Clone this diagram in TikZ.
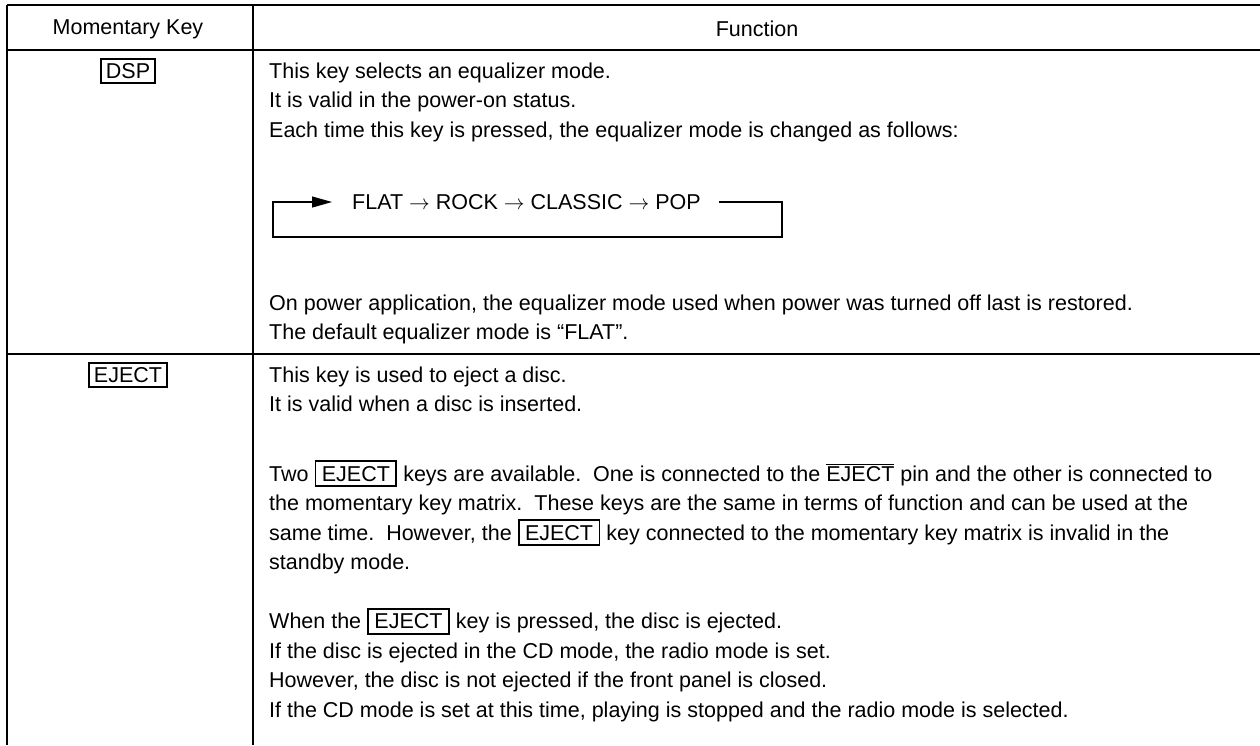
\documentclass[tikz,border=0pt]{standalone}
\usepackage{fontspec}
\setmainfont{Liberation Sans}
\usetikzlibrary{arrows.meta}

\newcommand{\keybox}[1]{{\setlength{\fboxrule}{1.8pt}\setlength{\fboxsep}{4pt}\fbox{\hspace{1.5pt}#1\hspace{1.5pt}}}}
\newcommand{\pinbar}[1]{$\overline{\mbox{#1}}$}

\begin{document}
\begin{tikzpicture}[x=1pt,y=-1pt,
    every node/.style={font=\fontsize{21.5}{28}\selectfont},
    grid/.style={line width=2.6pt},
    keyname/.style={draw,line width=1.8pt,inner xsep=5pt,inner ysep=4pt},
    line/.style={anchor=base west,inner sep=0pt},
    flow/.style={line width=1.2pt}]
\useasboundingbox (0,0) rectangle (1260,745);

    % table rules
    \draw[grid] (7,5) -- (1260,5);
    \draw[grid] (7,50) -- (1260,50);
    \draw[grid] (7,354) -- (1260,354);
    \draw[grid] (7,5) -- (7,745);
    \draw[grid] (253,5) -- (253,745);

    % header
    \node (hkey) at (128,29) {Momentary Key};
    \node (hfun) at (757,29) {Function};

    % DSP row
    \node[keyname] (dsp) at (128,71) {DSP};
    \node[line] (d1) at (269,78) {This key selects an equalizer mode.};
    \node[line] (d2) at (269,107.5) {It is valid in the power-on status.};
    \node[line] (d3) at (269,137) {Each time this key is pressed, the equalizer mode is changed as follows:};
    \node[anchor=west,inner sep=0pt] (seq) at (352,202)
        {FLAT $\rightarrow$ ROCK $\rightarrow$ CLASSIC $\rightarrow$ POP};
    \coordinate (lpa) at (273,202);
    \coordinate (lpb) at (273,237);
    \coordinate (rpa) at (782,202);
    \coordinate (rpb) at (782,237);
    \draw[flow,-{Triangle[length=20pt,width=11pt]}]
        ([xshift=18pt]seq.east) -- (rpa) -- (rpb) -- (lpb) -- (lpa)
        -- ([xshift=-20pt]seq.west);
    \node[line] (d4) at (269,310) {On power application, the equalizer mode used when power was turned off last is restored.};
    \node[line] (d5) at (269,339) {The default equalizer mode is “FLAT”.};

    % EJECT row
    \node[keyname] (eject) at (128,375) {EJECT};
    \node[line] (e1) at (269,382) {This key is used to eject a disc.};
    \node[line] (e2) at (269,411.5) {It is valid when a disc is inserted.};
    \node[line] (e3) at (269,481) {Two \keybox{EJECT} keys are available.\ \ One is connected to the \pinbar{EJECT} pin and the other is connected to};
    \node[line] (e4) at (269,510.5) {the momentary key matrix.\ \ These keys are the same in terms of function and can be used at the};
    \node[line] (e5) at (269,540) {same time.\ \ However, the \keybox{EJECT} key connected to the momentary key matrix is invalid in the};
    \node[line] (e6) at (269,569.5) {standby mode.};
    \node[line] (e7) at (269,628.5) {When the \keybox{EJECT} key is pressed, the disc is ejected.};
    \node[line] (e8) at (269,658) {If the disc is ejected in the CD mode, the radio mode is set.};
    \node[line] (e9) at (269,687.5) {However, the disc is not ejected if the front panel is closed.};
    \node[line] (e10) at (269,717) {If the CD mode is set at this time, playing is stopped and the radio mode is selected.};
\end{tikzpicture}
\end{document}
